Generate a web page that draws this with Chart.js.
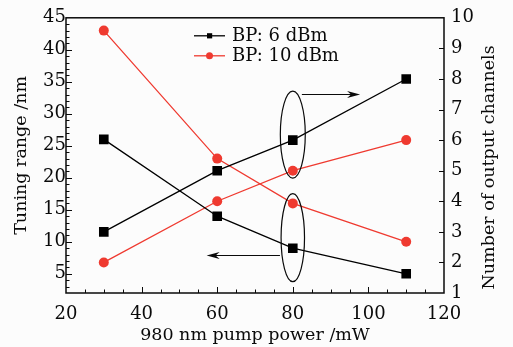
<!DOCTYPE html>
<html>
<head>
<meta charset="utf-8">
<script src="https://cdn.jsdelivr.net/npm/chart.js@4.4.0/dist/chart.umd.min.js"></script>
<style>
  html, body { margin: 0; padding: 0; background: #fcfcfc; }
</style>
</head>
<body>
<canvas id="chart" width="513" height="347"></canvas>
<script>
// ── Data ──
const pumpPower   = [30, 60, 80, 110];          // mW
const tuning6dBm  = [26, 14, 9, 5];             // nm, left axis
const tuning10dBm = [43, 23, 16, 10];           // nm, left axis
const chans6dBm   = [3, 5, 6, 8];               // right axis
const chans10dBm  = [2, 4, 5, 6];               // right axis

const seriesLabels = ['BP: 6 dBm', 'BP: 10 dBm'];
const xTicks     = [20, 40, 60, 80, 100, 120];
const leftTicks  = [5, 10, 15, 20, 25, 30, 35, 40, 45];
const rightTicks = [1, 2, 3, 4, 5, 6, 7, 8, 9, 10];

// ── Style ──
const INK   = '#0a0a0a';
const BLACK = '#000000';
const RED   = '#ef3a30';
const FONT  = "'DejaVu Serif', serif";

const pts = (xs, ys) => xs.map((x, i) => ({ x: x, y: ys[i] }));

function blackSet(data, axis) {
  return {
    label: seriesLabels[0], data: data, yAxisID: axis,
    borderColor: BLACK, backgroundColor: BLACK, borderWidth: 1.3,
    pointStyle: 'rect', pointRadius: 6.8, pointBorderWidth: 0,
    showLine: true, tension: 0
  };
}
function redSet(data, axis) {
  return {
    label: seriesLabels[1], data: data, yAxisID: axis,
    borderColor: RED, backgroundColor: RED, borderWidth: 1.3,
    pointStyle: 'circle', pointRadius: 5, pointBorderWidth: 0,
    showLine: true, tension: 0
  };
}

// ── Frame, inward ticks, right title, legend, ellipses + arrows ──
const decor = {
  id: 'decor',
  afterDraw(chart) {
    const { ctx, chartArea: a, scales } = chart;
    const x = scales.x, y = scales.y, y1 = scales.y1;
    ctx.save();
    ctx.strokeStyle = INK;
    ctx.lineWidth = 1;

    // x ticks (bottom, inward)
    for (let v = 25; v < 120; v += 5) {
      const len = xTicks.includes(v) ? 6 : 3.5;
      const px = Math.round(x.getPixelForValue(v)) + 0.5;
      ctx.beginPath(); ctx.moveTo(px, a.bottom); ctx.lineTo(px, a.bottom - len); ctx.stroke();
    }
    // left ticks
    for (let v = 3; v < 45; v++) {
      const len = leftTicks.includes(v) ? 6 : 3.5;
      const py = Math.round(y.getPixelForValue(v)) + 0.5;
      ctx.beginPath(); ctx.moveTo(a.left, py); ctx.lineTo(a.left + len, py); ctx.stroke();
    }
    // right ticks
    rightTicks.forEach(v => {
      if (v === 1 || v === 10) return;
      const py = Math.round(y1.getPixelForValue(v)) + 0.5;
      ctx.beginPath(); ctx.moveTo(a.right, py); ctx.lineTo(a.right - 5, py); ctx.stroke();
    });

    // frame
    ctx.lineWidth = 1.5;
    ctx.strokeRect(a.left, a.top, a.right - a.left, a.bottom - a.top);

    // right axis title, reading upwards
    ctx.fillStyle = INK;
    ctx.font = "17.5px " + FONT;
    ctx.textAlign = 'center';
    ctx.textBaseline = 'middle';
    ctx.save();
    ctx.translate(a.right + 45, (a.top + a.bottom) / 2 + 12);
    ctx.rotate(-Math.PI / 2);
    ctx.fillText('Number of output channels', 0, 0);
    ctx.restore();

    // legend
    const lx = a.left + 128, rows = [a.top + 18, a.top + 38];
    const cols = [BLACK, RED];
    ctx.font = "18px " + FONT;
    ctx.textAlign = 'left';
    rows.forEach((ry, i) => {
      ctx.strokeStyle = cols[i]; ctx.fillStyle = cols[i]; ctx.lineWidth = 1.3;
      ctx.beginPath(); ctx.moveTo(lx, ry); ctx.lineTo(lx + 31, ry); ctx.stroke();
      ctx.beginPath();
      if (i === 0) ctx.rect(lx + 13, ry - 2.6, 5.2, 5.2);
      else ctx.arc(lx + 15.5, ry, 3.5, 0, Math.PI * 2);
      ctx.fill();
      ctx.fillStyle = INK;
      ctx.fillText(seriesLabels[i], lx + 38, ry + 1);
    });

    // ellipses around the x = 80 points
    ctx.strokeStyle = INK; ctx.lineWidth = 1.2;
    function ellipse(xv, yTop, yBot, halfX) {
      const cx = x.getPixelForValue(xv);
      const t = y1.getPixelForValue(yTop), b = y1.getPixelForValue(yBot);
      const rx = x.getPixelForValue(xv + halfX) - cx;
      ctx.beginPath();
      ctx.ellipse(cx, (t + b) / 2, rx, (b - t) / 2, 0, 0, Math.PI * 2);
      ctx.stroke();
    }
    ellipse(80, 7.6, 4.76, 3.3);
    ellipse(80, 4.25, 1.37, 3.1);

    // arrows
    function arrow(x0, x1, yv) {
      const px0 = x.getPixelForValue(x0), px1 = x.getPixelForValue(x1);
      const py = Math.round(y1.getPixelForValue(yv)) + 0.5;
      const dir = Math.sign(px1 - px0);
      ctx.beginPath(); ctx.moveTo(px0, py); ctx.lineTo(px1 - dir * 6, py); ctx.stroke();
      ctx.fillStyle = INK;
      ctx.beginPath();
      ctx.moveTo(px1, py);
      ctx.lineTo(px1 - dir * 13, py - 3.5);
      ctx.lineTo(px1 - dir * 9, py);
      ctx.lineTo(px1 - dir * 13, py + 3.5);
      ctx.closePath();
      ctx.fill();
    }
    arrow(82.4, 97.8, 7.52);
    arrow(76.6, 57.2, 2.25);

    ctx.restore();
  }
};

new Chart(document.getElementById('chart'), {
  type: 'line',
  data: {
    datasets: [
      blackSet(pts(pumpPower, tuning6dBm), 'y'),
      blackSet(pts(pumpPower, chans6dBm), 'y1'),
      redSet(pts(pumpPower, tuning10dBm), 'y'),
      redSet(pts(pumpPower, chans10dBm), 'y1')
    ]
  },
  options: {
    responsive: false,
    animation: false,
    devicePixelRatio: 1,
    layout: { padding: { top: 15, left: 0, right: 0, bottom: 0 } },
    plugins: { legend: { display: false }, tooltip: { enabled: false } },
    scales: {
      x: {
        type: 'linear', position: 'bottom', min: 20, max: 120,
        afterBuildTicks: s => { s.ticks = xTicks.map(v => ({ value: v })); },
        afterFit: s => { s.height = 54; },
        grid: { display: false, drawTicks: false },
        border: { display: false },
        ticks: { color: INK, font: { family: FONT, size: 18 }, padding: 11, maxRotation: 0, autoSkip: false },
        title: { display: true, text: '980 nm pump power /mW', color: INK,
                 font: { family: FONT, size: 17.5 }, padding: { top: 0, bottom: 1 } }
      },
      y: {
        type: 'linear', position: 'left', min: 2, max: 45,
        afterBuildTicks: s => { s.ticks = leftTicks.map(v => ({ value: v })); },
        afterFit: s => { s.width = 66; },
        grid: { display: false, drawTicks: false },
        border: { display: false },
        ticks: { color: INK, font: { family: FONT, size: 18 }, padding: 0 },
        title: { display: true, text: 'Tuning range /nm', color: INK,
                 font: { family: FONT, size: 17.5 }, padding: { top: 11, bottom: 0 } }
      },
      y1: {
        type: 'linear', position: 'right', min: 1, max: 10,
        afterBuildTicks: s => { s.ticks = rightTicks.map(v => ({ value: v })); },
        afterFit: s => { s.width = 69; },
        grid: { display: false, drawTicks: false },
        border: { display: false },
        ticks: { color: INK, font: { family: FONT, size: 18 }, padding: 7 }
      }
    }
  },
  plugins: [decor]
});
</script>
</body>
</html>
